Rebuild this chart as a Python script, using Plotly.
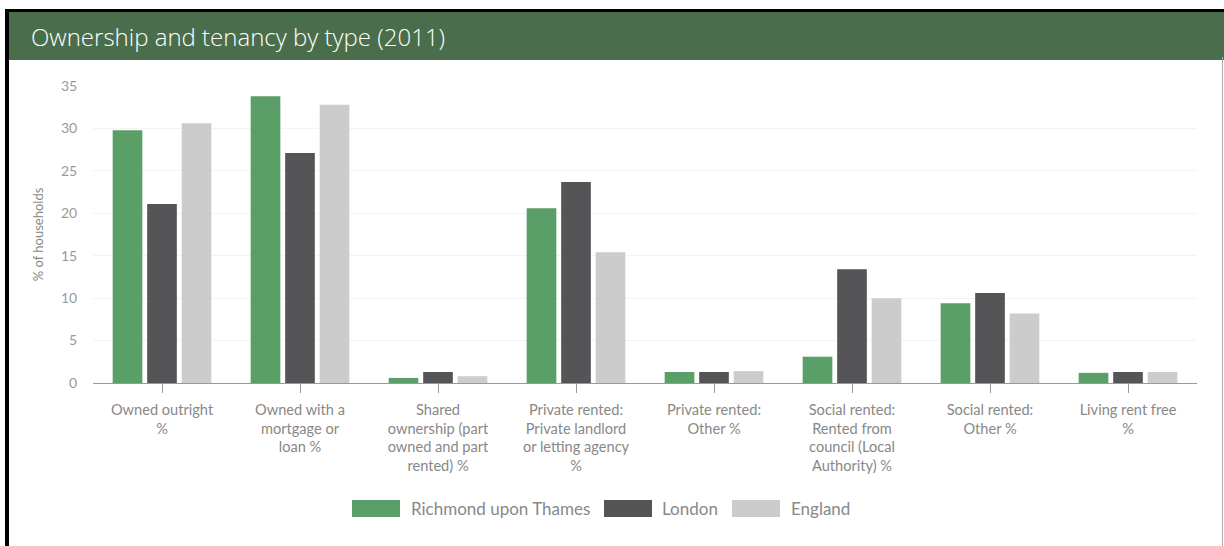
import plotly.graph_objects as go

# Tenure categories and shares of households (%), 2011 Census
categories = [
    "Owned outright<br>%",
    "Owned with a<br>mortgage or<br>loan %",
    "Shared<br>ownership (part<br>owned and part<br>rented) %",
    "Private rented:<br>Private landlord<br>or letting agency<br>%",
    "Private rented:<br>Other %",
    "Social rented:<br>Rented from<br>council (Local<br>Authority) %",
    "Social rented:<br>Other %",
    "Living rent free<br>%",
]
richmond = [29.8, 33.8, 0.6, 20.6, 1.3, 3.1, 9.4, 1.2]
london = [21.1, 27.1, 1.3, 23.7, 1.3, 13.4, 10.6, 1.3]
england = [30.6, 32.8, 0.8, 15.4, 1.4, 10.0, 8.2, 1.3]

series_names = ["Richmond upon Thames", "London", "England"]
series_colors = ["#5a9e68", "#555558", "#cccccc"]

W, H = 1224, 546
M_L, M_R, M_T, M_B = 93, 27, 86, 163
PW, PH = W - M_L - M_R, H - M_T - M_B


def px(x):
    return (x - M_L) / PW


def py(y):
    return (H - M_B - y) / PH


fig = go.Figure()
for name, vals, col in zip(series_names, [richmond, london, england], series_colors):
    fig.add_trace(go.Bar(x=categories, y=vals, name=name, marker_color=col,
                         marker_line_width=0, showlegend=False))

shapes = [
    # header band
    dict(type="rect", xref="paper", yref="paper", x0=px(9), x1=px(W + 2),
         y0=py(60), y1=py(12), fillcolor="#4a6e4b", line_width=0, layer="above"),
    # frame edges
    dict(type="rect", xref="paper", yref="paper", x0=px(5), x1=px(W + 2),
         y0=py(12), y1=py(9), fillcolor="#000000", line_width=0, layer="above"),
    dict(type="rect", xref="paper", yref="paper", x0=px(5), x1=px(9),
         y0=py(H + 2), y1=py(9), fillcolor="#000000", line_width=0, layer="above"),
    dict(type="line", xref="paper", yref="paper", x0=px(1222.5), x1=px(1222.5),
         y0=py(H + 2), y1=py(57), line=dict(color="#aaaaaa", width=1), layer="above"),
]

annotations = [
    dict(text="Ownership and tenancy by type (2011)", xref="paper", yref="paper",
         x=px(29), y=py(36), xanchor="left", yanchor="middle", showarrow=False,
         font=dict(family="Open Sans", size=24, weight=300, color="#ffffff")),
]

# legend: wide swatches with labels
legend_items = [(352, 409), (604, 660), (732, 789)]
for (sx, tx), name, col in zip(legend_items, series_names, series_colors):
    shapes.append(dict(type="rect", xref="paper", yref="paper", x0=px(sx), x1=px(sx + 48),
                       y0=py(517), y1=py(500), fillcolor=col, line_width=0))
    annotations.append(dict(text=name, xref="paper", yref="paper", x=px(tx), y=py(508.5),
                            xanchor="left", yanchor="middle", showarrow=False,
                            font=dict(family="Lato", size=17, color="#888888")))

fig.update_layout(
    width=W, height=H,
    margin=dict(l=M_L, r=M_R, t=M_T, b=M_B),
    paper_bgcolor="#ffffff", plot_bgcolor="#ffffff",
    barmode="group", bargap=0.25, bargroupgap=0.14,
    font=dict(family="Lato", size=14, color="#888888"),
    shapes=shapes, annotations=annotations,
    showlegend=False,
)
fig.update_xaxes(
    showline=True, linecolor="#999999", linewidth=1,
    ticks="outside", ticklen=9, tickcolor="#999999",
    ticklabelstandoff=4,
    tickfont=dict(family="Lato", size=14.6, color="#888888"),
    showgrid=False, fixedrange=True,
)
fig.update_yaxes(
    range=[0, 35], dtick=5, showline=False,
    showgrid=True, gridcolor="#f3f3f3", zeroline=False,
    tickfont=dict(family="Lato", size=14, color="#9a9a9a"),
    ticks="outside", ticklen=12, tickcolor="rgba(0,0,0,0)",
    title=dict(text="% of households", font=dict(family="Lato", size=13, color="#888888"),
               standoff=14),
    fixedrange=True,
)

fig.write_html("out.html")
